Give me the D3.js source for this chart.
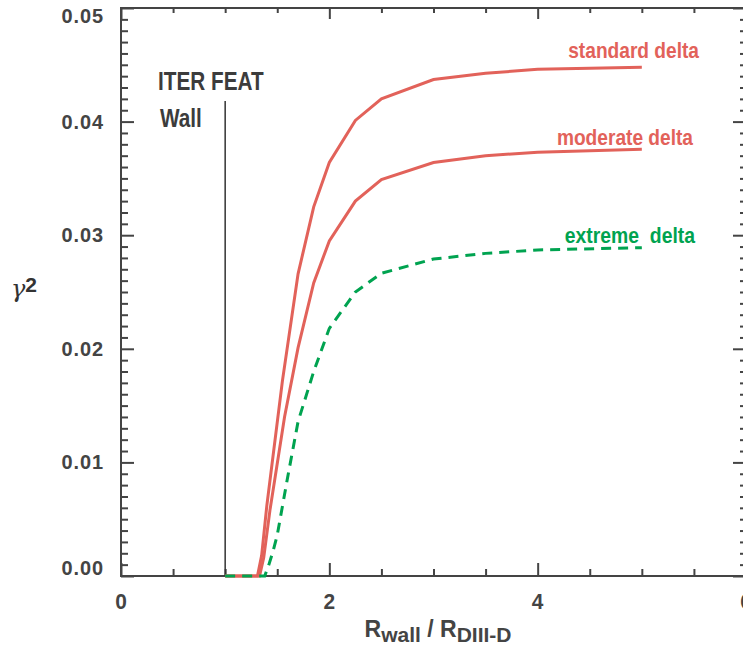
<!DOCTYPE html>
<html>
<head>
<meta charset="utf-8">
<script src="https://cdn.jsdelivr.net/npm/d3@7"></script>
<style>
  html, body { margin: 0; padding: 0; background: #fff; }
  svg { display: block; }
  text { font-family: "Liberation Sans", Arial, sans-serif; font-weight: bold; }
</style>
</head>
<body>
<svg id="chart" width="743" height="650"></svg>
<script>
// ---------------- data ----------------
const standardX = [1.0, 1.31, 1.35, 1.40, 1.55, 1.70, 1.85, 2.0, 2.25, 2.5, 3.0, 3.5, 4.0, 5.0];
const standardY = [0, 0, 0.0018, 0.0062, 0.0172, 0.0266, 0.0325, 0.0364, 0.0401, 0.0420, 0.0437, 0.04425, 0.0446, 0.04478];

const moderateX = [1.0, 1.33, 1.37, 1.43, 1.57, 1.70, 1.85, 2.0, 2.25, 2.5, 3.0, 3.5, 4.0, 5.0];
const moderateY = [0, 0, 0.0016, 0.0058, 0.0140, 0.0201, 0.0258, 0.0295, 0.0330, 0.0349, 0.0364, 0.0370, 0.0373, 0.03756];

const extremeX = [1.0, 1.38, 1.42, 1.46, 1.50, 1.60, 1.70, 1.85, 2.0, 2.25, 2.5, 3.0, 3.5, 4.0, 5.0];
const extremeY = [0, 0, 0.0010, 0.0022, 0.0036, 0.0087, 0.0136, 0.0180, 0.0218, 0.0250, 0.02665, 0.0279, 0.0284, 0.0287, 0.0289];

const seriesNames = ["standard delta", "moderate delta", "extreme\u00a0\u00a0delta"];
const xMajorTicks = [0, 2, 4, 6];
const yMajorTicks = [0, 0.01, 0.02, 0.03, 0.04, 0.05];
const yTickLabels = ["0.00", "0.01", "0.02", "0.03", "0.04", "0.05"];
const wallX = 1.0;
const wallLabel = ["ITER FEAT", "Wall"];

// ---------------- layout ----------------
const svg = d3.select("#chart");
const x = d3.scaleLinear().domain([0, 6]).range([121, 746]);
const y = d3.scaleLinear().domain([0, 0.05]).range([576, 8]);
const axisColor = "#444";
const red = "#e2625a";
const green = "#00a350";

const xMinor = d3.range(0, 6.01, 0.5).filter(v => Math.abs(v % 2) > 1e-9);
const yMinor = d3.range(0, 0.0501, 0.001).filter(v => Math.abs(Math.round(v * 100) - v * 100) > 1e-6);

function styleAxis(g) {
  g.select(".domain").remove();
  g.selectAll("line").attr("stroke", axisColor).attr("stroke-width", 2);
  g.selectAll("text").remove();
}

// condensed text helper (horizontal scale)
function ctext(parent, tx, ty, str, size, fill, anchor, sx) {
  return parent.append("text")
    .attr("transform", `translate(${tx},${ty}) scale(${sx},1)`)
    .attr("text-anchor", anchor || "start")
    .attr("font-size", size)
    .attr("fill", fill)
    .text(str);
}

// left axis (ticks inward)
svg.append("g").attr("transform", `translate(${x(0)},0)`)
  .call(d3.axisLeft(y).tickValues(yMajorTicks).tickSize(-13)).call(styleAxis);
svg.append("g").attr("transform", `translate(${x(0)},0)`)
  .call(d3.axisLeft(y).tickValues(yMinor).tickSize(-7)).call(styleAxis);
// right axis
svg.append("g").attr("transform", `translate(${x(6)},0)`)
  .call(d3.axisRight(y).tickValues(yMajorTicks).tickSize(-13)).call(styleAxis);
svg.append("g").attr("transform", `translate(${x(6)},0)`)
  .call(d3.axisRight(y).tickValues(yMinor).tickSize(-6)).call(styleAxis);
// bottom axis (ticks inward)
svg.append("g").attr("transform", `translate(0,${y(0)})`)
  .call(d3.axisBottom(x).tickValues(xMajorTicks).tickSize(-13)).call(styleAxis);
svg.append("g").attr("transform", `translate(0,${y(0)})`)
  .call(d3.axisBottom(x).tickValues(xMinor).tickSize(-7)).call(styleAxis);
// top axis
svg.append("g").attr("transform", `translate(0,${y(0.05)})`)
  .call(d3.axisTop(x).tickValues(xMajorTicks).tickSize(-11)).call(styleAxis);
svg.append("g").attr("transform", `translate(0,${y(0.05)})`)
  .call(d3.axisTop(x).tickValues(xMinor).tickSize(-5)).call(styleAxis);

// frame
svg.append("rect")
  .attr("x", x(0)).attr("y", y(0.05))
  .attr("width", x(6) - x(0)).attr("height", y(0) - y(0.05))
  .attr("fill", "none").attr("stroke", axisColor).attr("stroke-width", 2);

// y tick labels
yMajorTicks.forEach((d, i) => {
  const off = i === yMajorTicks.length - 1 ? 15 : (i === 0 ? -1 : 7);
  ctext(svg, 104, y(d) + off, yTickLabels[i], 21, axisColor, "end", 0.95)
    .attr("letter-spacing", 1);
});

// x tick labels
xMajorTicks.forEach(d => {
  ctext(svg, x(d), 609, d3.format("d")(d), 22, axisColor, "middle", 0.95);
});

// wall line
svg.append("line")
  .attr("x1", x(wallX)).attr("x2", x(wallX))
  .attr("y1", 101).attr("y2", y(0))
  .attr("stroke", "#333").attr("stroke-width", 1.5);
ctext(svg, 158, 90, wallLabel[0], 25, "#3c3c3c", "start", 0.83);
ctext(svg, 160, 127, wallLabel[1], 25, "#3c3c3c", "start", 0.83);

// lines
const line = d3.line().x(d => x(d[0])).y(d => y(d[1]));
const zip = (a, b) => a.map((v, i) => [v, b[i]]);

svg.append("path").datum(zip(standardX, standardY))
  .attr("d", line).attr("fill", "none").attr("stroke", red).attr("stroke-width", 3);
svg.append("path").datum(zip(moderateX, moderateY))
  .attr("d", line).attr("fill", "none").attr("stroke", red).attr("stroke-width", 3);
svg.append("path").datum(zip(extremeX, extremeY))
  .attr("d", line).attr("fill", "none").attr("stroke", green).attr("stroke-width", 3)
  .attr("stroke-dasharray", "10,7");

// series labels
ctext(svg, 699, 58, seriesNames[0], 22, red, "end", 0.87);
ctext(svg, 693, 145, seriesNames[1], 22, red, "end", 0.87);
ctext(svg, 695, 243, seriesNames[2], 22, green, "end", 0.88);

// y axis title: gamma^2
const yt = svg.append("text").attr("x", 11).attr("y", 297).attr("fill", "#333");
yt.append("tspan").attr("font-family", "DejaVu Serif, serif").attr("font-style", "italic")
  .attr("font-weight", "normal").attr("font-size", 24).text("\u03b3");
yt.append("tspan").attr("font-size", 21).attr("dy", -5).text("2");

// x axis title
const xt = svg.append("text").attr("x", 438).attr("y", 637).attr("text-anchor", "middle")
  .attr("fill", axisColor).attr("font-size", 23);
xt.append("tspan").text("R");
xt.append("tspan").attr("font-size", 21).attr("dy", 5).text("wall");
xt.append("tspan").attr("dy", -5).text(" / R");
xt.append("tspan").attr("font-size", 21).attr("dy", 5).text("DIII-D");
</script>
</body>
</html>
